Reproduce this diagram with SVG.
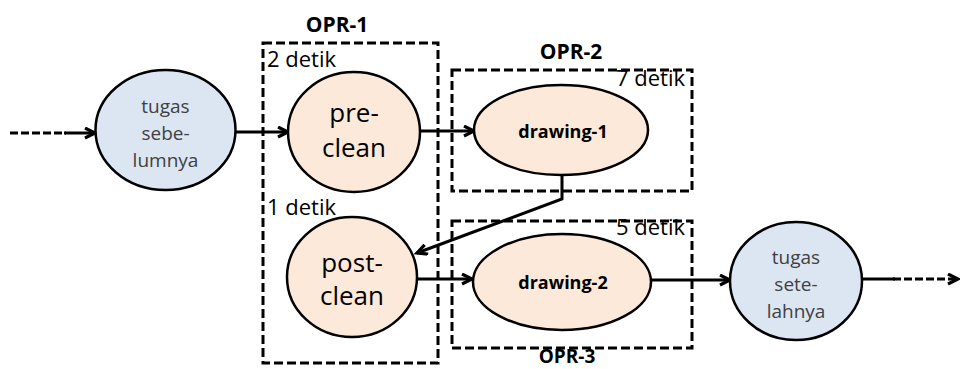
<svg xmlns="http://www.w3.org/2000/svg" width="960" height="369" viewBox="0 0 960 369">
<style>
.box{fill:none;stroke:#000;stroke-width:3;stroke-dasharray:9 4}
.blue{fill:#dce6f2;stroke:#000;stroke-width:2.5}
.peach{fill:#fde9d9;stroke:#000;stroke-width:2.5}
.ln{fill:none;stroke:#000;stroke-width:3}
.dash{fill:none;stroke:#000;stroke-width:3;stroke-dasharray:8 3}
.t{font-family:"Open Sans","DejaVu Sans",sans-serif;fill:#000}
.tb{font-size:19px;fill:#404040;text-anchor:middle}
.tc{font-size:26px;text-anchor:middle}
.td{font-size:18px;font-weight:bold;text-anchor:middle}
.opr{font-size:21px;font-weight:bold;text-anchor:middle}
.det{font-size:22px}
</style>
<defs>
<marker id="ah" markerUnits="userSpaceOnUse" markerWidth="14" markerHeight="14" refX="11" refY="6" orient="auto">
<path d="M1,1 L11,6 L1,11" fill="none" stroke="#000" stroke-width="3.2"/>
</marker>
</defs>
<g id="opr1">
<rect class="box" x="263" y="43" width="175" height="320"/>
<text class="t opr" x="337" y="32">OPR-1</text>
<text class="t det" x="267" y="67">2 detik</text>
<text class="t det" x="267" y="215">1 detik</text>
</g>
<g id="opr2">
<rect class="box" x="452" y="70" width="240" height="121"/>
<text class="t opr" x="571" y="59">OPR-2</text>
<text class="t det" x="685" y="86" text-anchor="end">7 detik</text>
</g>
<g id="opr3">
<rect class="box" x="452" y="221" width="240" height="127"/>
<text class="t opr" x="567" y="363" style="font-size:19px">OPR-3</text>
<text class="t det" x="685" y="235" text-anchor="end">5 detik</text>
</g>
<g id="connectors">
<path class="dash" d="M10,133 H66"/>
<path class="ln" d="M64,133 H95" marker-end="url(#ah)"/>
<path class="ln" d="M236,132 H288" marker-end="url(#ah)"/>
<path class="ln" d="M420,131 H474" marker-end="url(#ah)"/>
<path class="ln" d="M562,175 V199 L417,253" marker-end="url(#ah)"/>
<path class="ln" d="M417,279 H472" marker-end="url(#ah)"/>
<path class="ln" d="M651,280 H730" marker-end="url(#ah)"/>
<path class="ln" d="M862,279 H895"/>
<path class="dash" d="M893,279 H958" marker-end="url(#ah)"/>
</g>
<g id="tugas-sebelumnya">
<ellipse class="blue" cx="165.5" cy="130" rx="70" ry="60"/>
<text class="t tb" x="165.5" y="113">tugas</text>
<text class="t tb" x="165.5" y="140">sebe-</text>
<text class="t tb" x="165.5" y="167">lumnya</text>
</g>
<g id="pre-clean">
<ellipse class="peach" cx="354" cy="132" rx="66" ry="60"/>
<text class="t tc" x="354" y="122">pre-</text>
<text class="t tc" x="354" y="157">clean</text>
</g>
<g id="post-clean">
<ellipse class="peach" cx="352" cy="277" rx="65" ry="60"/>
<text class="t tc" x="352" y="272">post-</text>
<text class="t tc" x="352" y="305">clean</text>
</g>
<g id="drawing-1">
<ellipse class="peach" cx="561" cy="130" rx="87" ry="45"/>
<text class="t td" x="563" y="138">drawing-1</text>
</g>
<g id="drawing-2">
<ellipse class="peach" cx="562" cy="282" rx="89" ry="48"/>
<text class="t td" x="563" y="289">drawing-2</text>
</g>
<g id="tugas-setelahnya">
<ellipse class="blue" cx="796" cy="281" rx="66" ry="59"/>
<text class="t tb" x="796" y="264">tugas</text>
<text class="t tb" x="796" y="291">sete-</text>
<text class="t tb" x="796" y="318">lahnya</text>
</g>
</svg>
